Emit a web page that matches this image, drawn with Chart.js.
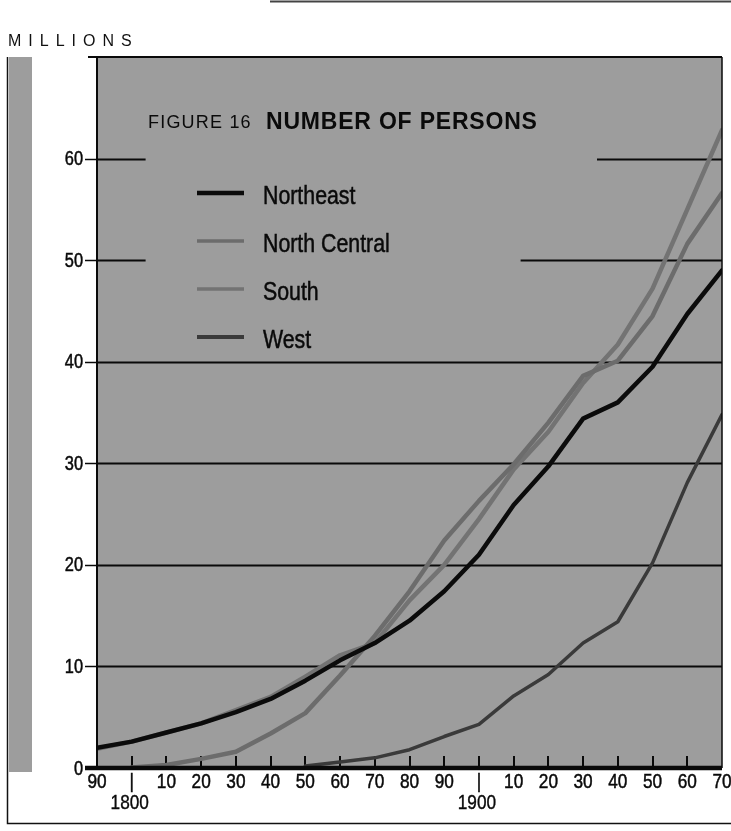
<!DOCTYPE html>
<html><head><meta charset="utf-8">
<script src="https://cdn.jsdelivr.net/npm/chart.js@4.4.1/dist/chart.umd.min.js"></script>
<style>html,body{margin:0;padding:0;background:#fff;} #wrap{position:relative;width:731px;height:831px;}</style>
</head><body><div id="wrap"><canvas id="c" width="731" height="831"></canvas></div>
<script>
// ---- data (millions of persons) ----
const years = [1790,1800,1810,1820,1830,1840,1850,1860,1870,1880,1890,1900,1910,1920,1930,1940,1950,1960,1970];
const northeast    = [2.0, 2.6, 3.5, 4.4, 5.5, 6.8, 8.6, 10.6, 12.3, 14.5, 17.4, 21.0, 25.9, 29.7, 34.4, 36.0, 39.5, 44.7, 49.0];
const northCentral = [null, 0.05, 0.3, 0.9, 1.6, 3.4, 5.4, 9.1, 13.0, 17.4, 22.4, 26.3, 29.9, 34.0, 38.6, 40.1, 44.5, 51.6, 56.6];
const south        = [1.9, 2.6, 3.5, 4.4, 5.7, 7.0, 9.0, 11.1, 12.3, 16.5, 20.0, 24.5, 29.4, 33.1, 37.9, 41.7, 47.2, 55.0, 62.8];
const west         = [null, null, null, null, null, null, 0.2, 0.6, 1.0, 1.8, 3.1, 4.3, 7.1, 9.2, 12.3, 14.4, 20.2, 28.1, 34.8];
const seriesNames  = ['Northeast', 'North Central', 'South', 'West'];
const yTickValues  = [0, 10, 20, 30, 40, 50, 60];
const centuryYears = [1800, 1900];
const titleSmall = 'FIGURE 16';
const titleBold  = 'NUMBER OF PERSONS';
const unitLabel  = 'MILLIONS';

// ---- styling ----
const REG = "'Liberation Sans', Arial, sans-serif";
const NARROW_SX = 0.82;           // horizontal squeeze giving a condensed face
const BG = '#9d9d9d';
const INK = '#0a0a0a';
const colors = ['#0b0b0b', '#6c6c6c', '#737373', '#3a3a3a'];
const widths = [4.5, 4.5, 4.5, 3.5];
const legendWidths = [4.5, 3.5, 3.5, 4];
const gridGaps = {60: [1804, 1934], 50: [1804, 1912]};

const seriesValues = [northeast, northCentral, south, west];
const datasets = seriesValues.map((vals, i) => ({
  label: seriesNames[i],
  data: years.map((y, k) => ({x: y, y: vals[k]})),
  borderColor: colors[i],
  backgroundColor: colors[i],
  borderWidth: widths[i],
  pointRadius: 0,
  tension: 0,
  spanGaps: false,
  borderCapStyle: 'round',
  borderJoinStyle: 'round'
}));

function squeezedText(ctx, text, x, y, font, align, baseline, sx, heavy) {
  ctx.save();
  ctx.font = font;
  ctx.textAlign = align;
  ctx.textBaseline = baseline;
  ctx.translate(x, y);
  ctx.scale(sx, 1);
  ctx.fillText(text, 0, 0);
  if (heavy) {
    ctx.strokeStyle = ctx.fillStyle;
    ctx.lineWidth = heavy;
    ctx.strokeText(text, 0, 0);
  }
  ctx.restore();
}

const decor = {
  id: 'decor',
  beforeDraw(chart) {
    const ctx = chart.ctx, a = chart.chartArea;
    ctx.save();
    ctx.fillStyle = '#fff';
    ctx.fillRect(0, 0, chart.width, chart.height);
    // plot background
    ctx.fillStyle = BG;
    ctx.fillRect(a.left, a.top, a.right - a.left, a.bottom - a.top);
    // left strip
    ctx.fillRect(9, a.top, 23, a.bottom + 4 - a.top);
    // frame lines
    ctx.strokeStyle = '#111';
    ctx.lineWidth = 1.5;
    ctx.beginPath();
    ctx.moveTo(7.5, a.top); ctx.lineTo(7.5, 823.5); ctx.lineTo(731, 823.5);
    ctx.stroke();
    ctx.strokeStyle = '#444';
    ctx.lineWidth = 2;
    ctx.beginPath(); ctx.moveTo(270, 1.5); ctx.lineTo(731, 1.5); ctx.stroke();
    // unit label
    ctx.fillStyle = '#111';
    ctx.font = '16px ' + REG;
    ctx.letterSpacing = '7px';
    ctx.textBaseline = 'alphabetic';
    ctx.fillText(unitLabel, 8, 46);
    ctx.letterSpacing = '0px';
    ctx.restore();
  },
  beforeDatasetsDraw(chart) {
    const ctx = chart.ctx, a = chart.chartArea;
    const xs = chart.scales.x, ys = chart.scales.y;
    ctx.save();
    ctx.strokeStyle = INK;
    // horizontal grid lines (gaps behind the title / legend block)
    ctx.lineWidth = 1.8;
    yTickValues.forEach(v => {
      if (v === 0) return;
      const py = Math.round(ys.getPixelForValue(v)) + 0.5;
      ctx.beginPath();
      if (gridGaps[v]) {
        ctx.moveTo(a.left, py); ctx.lineTo(xs.getPixelForValue(gridGaps[v][0]), py);
        ctx.moveTo(xs.getPixelForValue(gridGaps[v][1]), py); ctx.lineTo(a.right, py);
      } else {
        ctx.moveTo(a.left, py); ctx.lineTo(a.right, py);
      }
      ctx.stroke();
    });
    // decade tick marks rising from the base line
    ctx.lineWidth = 2;
    years.forEach(y => {
      if (y === years[0] || y === years[years.length - 1]) return;
      const px = Math.round(xs.getPixelForValue(y));
      ctx.beginPath(); ctx.moveTo(px, a.bottom); ctx.lineTo(px, a.bottom - 12); ctx.stroke();
    });
    ctx.restore();
  },
  afterDatasetsDraw(chart) {
    const ctx = chart.ctx, a = chart.chartArea;
    const xs = chart.scales.x, ys = chart.scales.y;
    ctx.save();
    ctx.strokeStyle = INK;
    // left axis
    ctx.lineWidth = 2;
    ctx.beginPath(); ctx.moveTo(a.left, a.top - 1); ctx.lineTo(a.left, a.bottom); ctx.stroke();
    // top border
    ctx.beginPath(); ctx.moveTo(a.left - 9, a.top); ctx.lineTo(a.right, a.top); ctx.stroke();
    // right border
    ctx.lineWidth = 1.5;
    ctx.beginPath(); ctx.moveTo(a.right, a.top); ctx.lineTo(a.right, a.bottom); ctx.stroke();
    // y tick dashes
    yTickValues.forEach(v => {
      if (v === 0) return;
      const py = Math.round(ys.getPixelForValue(v)) + 0.5;
      ctx.beginPath(); ctx.moveTo(a.left - 12, py); ctx.lineTo(a.left, py); ctx.stroke();
    });
    // base line
    ctx.lineWidth = 4.5;
    ctx.beginPath(); ctx.moveTo(a.left - 12, a.bottom); ctx.lineTo(a.right, a.bottom); ctx.stroke();

    // tick labels (condensed)
    ctx.fillStyle = INK;
    yTickValues.forEach(v => {
      squeezedText(ctx, String(v), a.left - 14, ys.getPixelForValue(v) + 1, '20px ' + REG, 'right', 'middle', NARROW_SX, 0.5);
    });
    years.forEach(y => {
      const px = xs.getPixelForValue(y);
      const isCentury = centuryYears.includes(y);
      const lbl = isCentury ? '|' : String(y % 100).padStart(2, '0');
      squeezedText(ctx, lbl, px, a.bottom + 4, '21px ' + REG, 'center', 'top', NARROW_SX, 0.5);
      if (isCentury) {
        squeezedText(ctx, String(y), px - 2, a.bottom + 25, '21px ' + REG, 'center', 'top', NARROW_SX, 0.4);
      }
    });

    // title
    ctx.fillStyle = INK;
    ctx.textBaseline = 'alphabetic';
    ctx.textAlign = 'left';
    ctx.font = '18px ' + REG;
    ctx.letterSpacing = '1.2px';
    ctx.fillText(titleSmall, 148, 128);
    ctx.font = 'bold 23px ' + REG;
    ctx.letterSpacing = '0.8px';
    ctx.fillText(titleBold, 266, 129);
    ctx.letterSpacing = '0px';

    // legend
    const rowY = [193, 241, 289, 337];
    chart.data.datasets.forEach((ds, i) => {
      const y = rowY[i];
      ctx.strokeStyle = ds.borderColor;
      ctx.lineWidth = legendWidths[i];
      ctx.beginPath(); ctx.moveTo(197, y); ctx.lineTo(244, y); ctx.stroke();
      ctx.fillStyle = INK;
      squeezedText(ctx, ds.label, 263, y + 11, '26px ' + REG, 'left', 'alphabetic', NARROW_SX, 0.5);
    });
    ctx.restore();
  }
};

new Chart(document.getElementById('c'), {
  type: 'line',
  data: { datasets },
  options: {
    responsive: false,
    animation: false,
    events: [],
    layout: { padding: { top: 57, right: 9, left: 0, bottom: 0 } },
    plugins: { legend: { display: false }, tooltip: { enabled: false }, title: { display: false } },
    scales: {
      x: {
        type: 'linear', min: years[0], max: years[years.length - 1],
        afterFit(s) { s.height = 63; },
        afterBuildTicks(s) { s.ticks = years.map(v => ({ value: v })); },
        grid: { display: false, drawTicks: false },
        border: { display: false },
        ticks: { display: false }
      },
      y: {
        min: 0, max: 70,
        afterFit(s) { s.width = 97; },
        afterBuildTicks(s) { s.ticks = yTickValues.map(v => ({ value: v })); },
        grid: { display: false, drawTicks: false },
        border: { display: false },
        ticks: { display: false }
      }
    }
  },
  plugins: [decor]
});
</script>
</body></html>
